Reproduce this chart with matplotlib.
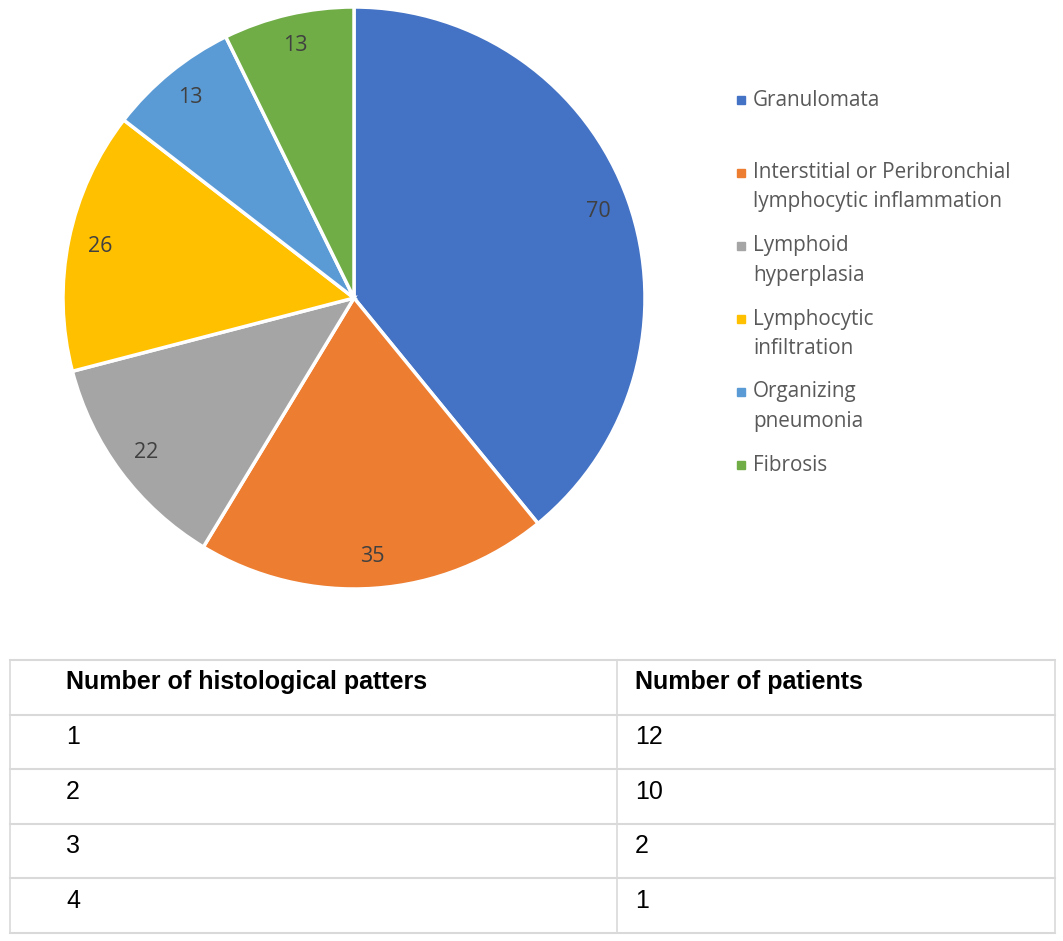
import numpy as np
import matplotlib
matplotlib.use("Agg")
import matplotlib.pyplot as plt
from matplotlib.patches import Rectangle

# data
categories = ["Granulomata",
              "Interstitial or Peribronchial\nlymphocytic inflammation",
              "Lymphoid\nhyperplasia",
              "Lymphocytic\ninfiltration",
              "Organizing\npneumonia",
              "Fibrosis"]
counts = [70, 35, 22, 26, 13, 13]
colors = ["#4472C4", "#ED7D31", "#A5A5A5", "#FFC000", "#5B9BD5", "#70AD47"]

table_header = ["Number of histological patters", "Number of patients"]
n_patterns = ["1", "2", "3", "4"]
n_patients = ["12", "10", "2", "1"]

W, H = 1063, 941
fig = plt.figure(figsize=(W / 100, H / 100), dpi=100)

# pie
cx, cy, r = 354, 298, 291
ax = fig.add_axes([(cx - r) / W, 1 - (cy + r) / H, 2 * r / W, 2 * r / H])
total = sum(counts)
wedges, _, autotexts = ax.pie(
    counts, colors=colors, startangle=90, counterclock=False, radius=1,
    autopct=lambda p: "%d" % round(p * total / 100), pctdistance=0.89,
    wedgeprops=dict(edgecolor="white", linewidth=2.5),
    textprops=dict(color="#404040", fontsize=15.5, family=["Open Sans"]))
ax.set_xlim(-1, 1)
ax.set_ylim(-1, 1)
ax.set_aspect("auto")
ax.axis("off")

# legend
y0, step, line = 100, 73, 29
for i, (lab, c) in enumerate(zip(categories, colors)):
    y = y0 + step * i
    fig.patches.append(Rectangle((737 / W, 1 - (y + 4) / H), 8 / W, 8 / H,
                                 transform=fig.transFigure, color=c))
    for j, part in enumerate(lab.split("\n")):
        fig.text(753 / W, 1 - (y + line * j) / H, part, ha="left", va="center",
                 fontsize=14.9, color="#595959", family=["Open Sans"])

# table
tax = fig.add_axes([10 / W, 1 - 933 / H, 1045 / W, 273 / H])
nrows = len(n_patterns) + 1
tax.set_xlim(0, 1045)
tax.set_ylim(nrows, 0)
tax.axis("off")
xmid = 607
grid = "#D9D9D9"
for k in range(nrows + 1):
    tax.plot([0, 1045], [k, k], color=grid, lw=1.5, clip_on=False)
for xv in [0, xmid, 1045]:
    tax.plot([xv, xv], [0, nrows], color=grid, lw=1.2, clip_on=False)

rows = [table_header] + [[a, b] for a, b in zip(n_patterns, n_patients)]
for k, (a, b) in enumerate(rows):
    weight = "bold" if k == 0 else "normal"
    for xv, s in [(56, a), (xmid + 18, b)]:
        tax.text(xv, k + 0.41, s, ha="left", va="center", fontsize=18,
                 fontweight=weight, color="black", family=["Liberation Sans"])

fig.savefig("out.png", dpi=100, facecolor="white")
